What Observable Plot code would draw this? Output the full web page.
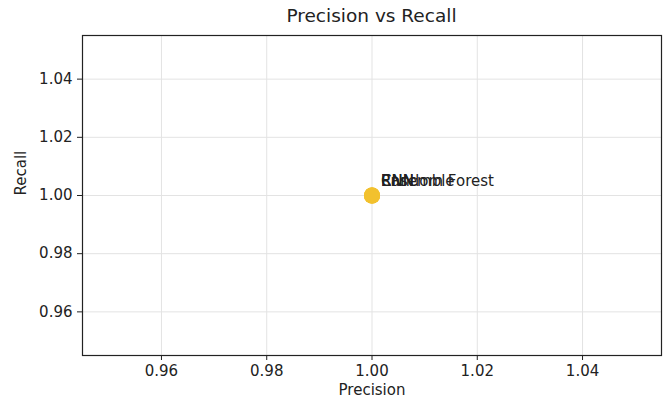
<!DOCTYPE html>
<html>
<head>
<meta charset="utf-8">
<script src="https://cdn.jsdelivr.net/npm/d3@7"></script>
<script src="https://cdn.jsdelivr.net/npm/@observablehq/plot@0.6"></script>
<style>
  body { margin: 0; background: #fff; font-family: "DejaVu Sans", sans-serif; }
  #title { height: 30px; box-sizing: border-box; padding-left: 82px; padding-right: 4px; text-align: center; font-size: 18.5px; line-height: 18px; padding-top: 7px; color: #222; }
</style>
</head>
<body>
<div id="title">Precision vs Recall</div>
<div id="chart"></div>
<script>
const models = ["Random Forest", "CNN", "RNN", "Ensemble"];
const precision = [1.0, 1.0, 1.0, 1.0];
const recall = [1.0, 1.0, 1.0, 1.0];
const xTicks = [0.96, 0.98, 1.00, 1.02, 1.04];
const yTicks = [0.96, 0.98, 1.00, 1.02, 1.04];

const data = models.map((m, i) => ({ model: m, precision: precision[i], recall: recall[i] }));

const chart = Plot.plot({
  width: 665,
  height: 376,
  marginTop: 5,
  marginLeft: 82,
  marginRight: 4,
  marginBottom: 51,
  style: { fontFamily: "DejaVu Sans, sans-serif", fontSize: "15px", color: "#222", background: "#fff" },
  x: { domain: [0.945, 1.055] },
  y: { domain: [0.945, 1.055] },
  marks: [
    Plot.gridX(xTicks, { stroke: "#e3e3e3", strokeOpacity: 1 }),
    Plot.gridY(yTicks, { stroke: "#e3e3e3", strokeOpacity: 1 }),
    Plot.axisX({ ticks: xTicks, tickFormat: d => d.toFixed(2), tickSize: 5, tickPadding: 5, label: null }),
    Plot.axisY({ ticks: yTicks, tickFormat: d => d.toFixed(2), tickSize: 5, tickPadding: 5, label: null }),
    Plot.text(["Precision"], { frameAnchor: "bottom", dy: 39, text: d => d, fontSize: 15 }),
    Plot.text(["Recall"], { frameAnchor: "left", dx: -61, rotate: -90, text: d => d, fontSize: 15 }),
    Plot.dot(data, { x: "precision", y: "recall", r: 8, fill: "#f2c12e" }),
    Plot.text(data, { x: "precision", y: "recall", text: "model", dx: 9, dy: -14, textAnchor: "start", fontSize: 15, fill: "#222" }),
    Plot.frame({ stroke: "#222", strokeWidth: 1.2 })
  ]
});
document.getElementById("chart").appendChild(chart);
</script>
</body>
</html>
